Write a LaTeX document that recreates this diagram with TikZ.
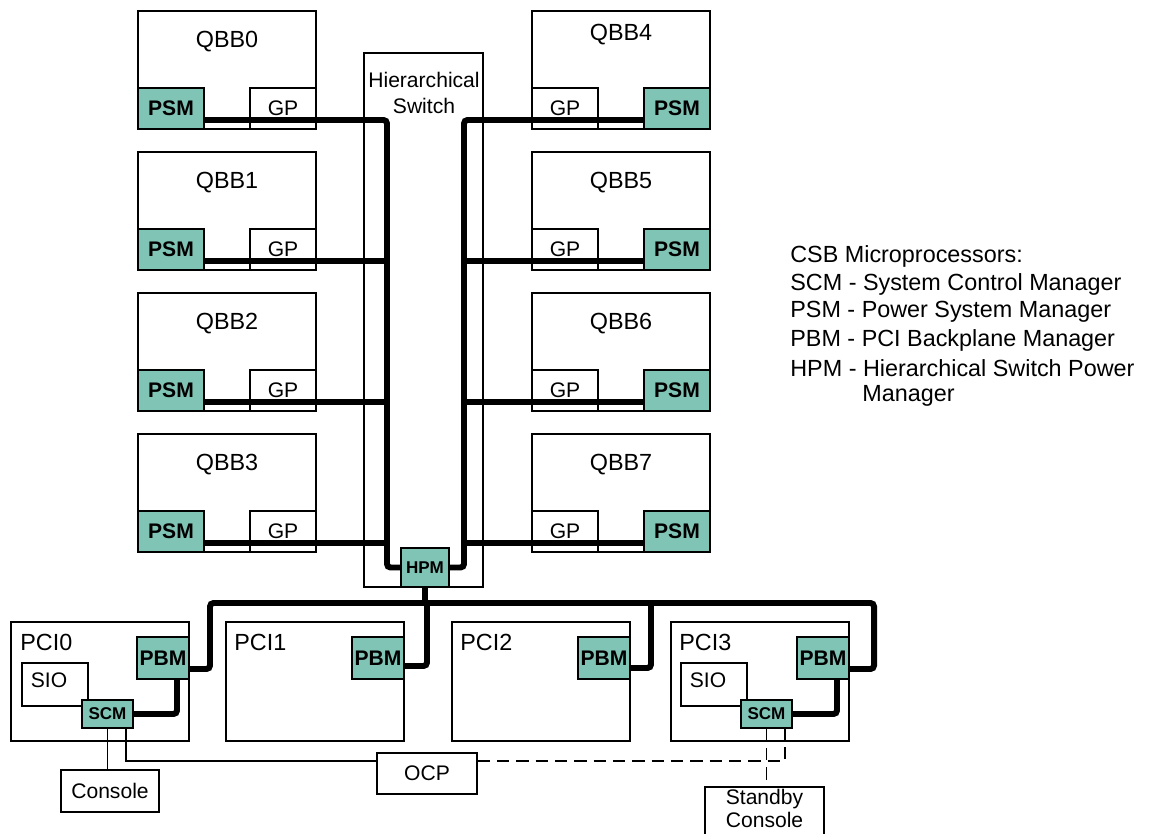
\documentclass[tikz,border=0pt]{standalone}
\usepackage{fontspec}
\setmainfont{Liberation Sans}
\usetikzlibrary{positioning}
\definecolor{mgrteal}{RGB}{127,196,181}

\tikzset{
  box/.style={draw, line width=0.8pt, fill=white, inner sep=0pt},
  qbbbox/.style={box, minimum width=3.56cm, minimum height=2.36cm},
  pcibox/.style={box, minimum width=3.56cm, minimum height=2.38cm},
  gpbox/.style={box, minimum width=1.32cm, minimum height=0.82cm},
  siobox/.style={box, minimum width=1.32cm, minimum height=0.86cm},
  psmbox/.style={box, fill=mgrteal, minimum width=1.32cm, minimum height=0.82cm, font=\fontsize{12}{14}\selectfont\bfseries},
  pbmbox/.style={box, fill=mgrteal, minimum width=1.04cm, minimum height=0.84cm, font=\fontsize{12}{14}\selectfont\bfseries},
  scmbox/.style={box, fill=mgrteal, minimum width=1.02cm, minimum height=0.56cm, font=\fontsize{9.7}{11}\selectfont\bfseries},
  hpmbox/.style={box, fill=mgrteal, minimum width=0.96cm, minimum height=0.78cm, font=\fontsize{9.7}{11}\selectfont\bfseries},
  biglabel/.style={font=\fontsize{13.3}{16}\selectfont},
  leftlabel/.style={biglabel, anchor=west, inner sep=0pt},
  wire/.style={line width=3.4pt, rounded corners=2pt},
  link/.style={line width=0.8pt},
  dashline/.style={link, dash pattern=on 7pt off 4pt},
}

\begin{document}
\begin{tikzpicture}[x=0.02cm, y=-0.02cm, font=\fontsize{12}{14}\selectfont]
    \useasboundingbox (0,0) rectangle (1162,834);
    % hierarchical switch
    \node[box, minimum width=2.38cm, minimum height=10.68cm] (hs) at (423.5,320) {};
    \node[align=center, font=\fontsize{12}{15.3}\selectfont] (hst) at (424,93) {Hierarchical\\Switch};
    \node[hpmbox] (hpm) at (425,567.5) {HPM};

    % QBB0 and QBB4
    \begin{scope}
        \node[qbbbox] (q0) at (227,70) {};
        \node[biglabel] (q0t) at (227,42) {QBB0};
        \node[gpbox] (g0) at (283,108.5) {GP};
        \node[psmbox] (p0) at (171,108.5) {PSM};
        \node[qbbbox] (q4) at (621,70) {};
        \node[biglabel] (q4t) at (621,35) {QBB4};
        \node[gpbox] (g4) at (565,108.5) {GP};
        \node[psmbox] (p4) at (677,108.5) {PSM};
        \coordinate (sl0) at (387,120);
        \coordinate (sr0) at (464,120);
        \draw[wire] (p0.east |- sl0) -- (sl0) |- (hpm.west);
        \draw[wire] (p4.west |- sr0) -- (sr0) |- (hpm.east);
    \end{scope}
    % QBB1 and QBB5
    \begin{scope}[shift={(0,141)}]
        \node[qbbbox] (q1) at (227,70) {};
        \node[biglabel] (q1t) at (227,42) {QBB1};
        \node[gpbox] (g1) at (283,108.5) {GP};
        \node[psmbox] (p1) at (171,108.5) {PSM};
        \node[qbbbox] (q5) at (621,70) {};
        \node[biglabel] (q5t) at (621,42) {QBB5};
        \node[gpbox] (g5) at (565,108.5) {GP};
        \node[psmbox] (p5) at (677,108.5) {PSM};
        \coordinate (sl1) at (387,120);
        \coordinate (sr1) at (464,120);
        \draw[wire] (p1.east |- sl1) -- (sl1);
        \draw[wire] (p5.west |- sr1) -- (sr1);
    \end{scope}
    % QBB2 and QBB6
    \begin{scope}[shift={(0,282)}]
        \node[qbbbox] (q2) at (227,70) {};
        \node[biglabel] (q2t) at (227,42) {QBB2};
        \node[gpbox] (g2) at (283,108.5) {GP};
        \node[psmbox] (p2) at (171,108.5) {PSM};
        \node[qbbbox] (q6) at (621,70) {};
        \node[biglabel] (q6t) at (621,42) {QBB6};
        \node[gpbox] (g6) at (565,108.5) {GP};
        \node[psmbox] (p6) at (677,108.5) {PSM};
        \coordinate (sl2) at (387,120);
        \coordinate (sr2) at (464,120);
        \draw[wire] (p2.east |- sl2) -- (sl2);
        \draw[wire] (p6.west |- sr2) -- (sr2);
    \end{scope}
    % QBB3 and QBB7
    \begin{scope}[shift={(0,423)}]
        \node[qbbbox] (q3) at (227,70) {};
        \node[biglabel] (q3t) at (227,42) {QBB3};
        \node[gpbox] (g3) at (283,108.5) {GP};
        \node[psmbox] (p3) at (171,108.5) {PSM};
        \node[qbbbox] (q7) at (621,70) {};
        \node[biglabel] (q7t) at (621,42) {QBB7};
        \node[gpbox] (g7) at (565,108.5) {GP};
        \node[psmbox] (p7) at (677,108.5) {PSM};
        \coordinate (sl3) at (387,120);
        \coordinate (sr3) at (464,120);
        \draw[wire] (p3.east |- sl3) -- (sl3);
        \draw[wire] (p7.west |- sr3) -- (sr3);
    \end{scope}

    % PCI drawers
    \node[pcibox] (pci0) at (100,681.5) {};
    \node[pcibox] (pci1) at (315,681.5) {};
    \node[pcibox] (pci2) at (541,681.5) {};
    \node[pcibox] (pci3) at (760,681.5) {};
    \node[leftlabel] (pci0t) at (20,642) {PCI0};
    \node[leftlabel] (pci1t) at (234,642) {PCI1};
    \node[leftlabel] (pci2t) at (460,642) {PCI2};
    \node[leftlabel] (pci3t) at (679,642) {PCI3};
    \node[pbmbox] (b0) at (163,658) {PBM};
    \node[pbmbox] (b1) at (378,658) {PBM};
    \node[pbmbox] (b2) at (604,658) {PBM};
    \node[pbmbox] (b3) at (823,658) {PBM};
    \node[siobox] (sio0) at (55,684.5) {};
    \node (sio0t) at (49,680) {SIO};
    \node[siobox] (sio3) at (714,684.5) {};
    \node (sio3t) at (708,680) {SIO};
    \node[scmbox] (c0) at (107.5,714) {SCM};
    \node[scmbox] (c3) at (766.5,714) {SCM};

    \node[box, minimum width=1.96cm, minimum height=0.84cm] (con) at (110,791) {Console};
    \node[box, minimum width=2cm, minimum height=0.82cm] (ocp) at (427,773.5) {OCP};
    \node[box, minimum width=2.38cm, minimum height=1cm] (sby) at (764.5,812) {};
    \node[align=center, font=\fontsize{12}{13}\selectfont] (sbyt) at (764.5,808.5) {Standby\\Console};

    % PCI bus
    \coordinate (busl) at (210,603);
    \coordinate (busr) at (874,603);
    \coordinate (bus2) at (651,603);
    \draw[wire] ([yshift=-0.22cm]b0.east) -| (busl) -- (busr) |- ([yshift=-0.22cm]b3.east);
    \draw[wire] (hpm.south) -- (hpm.south |- busl);
    \draw[wire] ([yshift=-0.16cm]b1.east) -| ([xshift=0.04cm]hpm.south |- busl);
    \draw[wire] ([yshift=-0.2cm]b2.east) -| (bus2);
    \draw[wire] (c0.east) -| ([xshift=0.28cm]b0.south);
    \draw[wire] (c3.east) -| ([xshift=0.28cm]b3.south);

    % consoles
    \draw[link] (c0.south) -- (c0.south |- con.north);
    \draw[link] ([xshift=0.37cm]c0.south) |- ([yshift=0.25cm]ocp.west);
    \draw[dashline] ([yshift=0.25cm]ocp.east) -| ([xshift=0.37cm]c3.south);
    \draw[dashline] (c3.south) -- (c3.south |- sby.north);

    % legend
    \node[leftlabel] (leg0) at (790,256) {CSB Microprocessors:};
    \node[leftlabel] (leg1) at (790,284) {SCM - System Control Manager};
    \node[leftlabel] (leg2) at (790,312) {PSM - Power System Manager};
    \node[leftlabel] (leg3) at (790,340) {PBM - PCI Backplane Manager};
    \node[leftlabel] (leg4) at (790,368) {HPM - Hierarchical Switch Power};
    \node[leftlabel] (leg5) at (862,396) {Manager};
\end{tikzpicture}
\end{document}
